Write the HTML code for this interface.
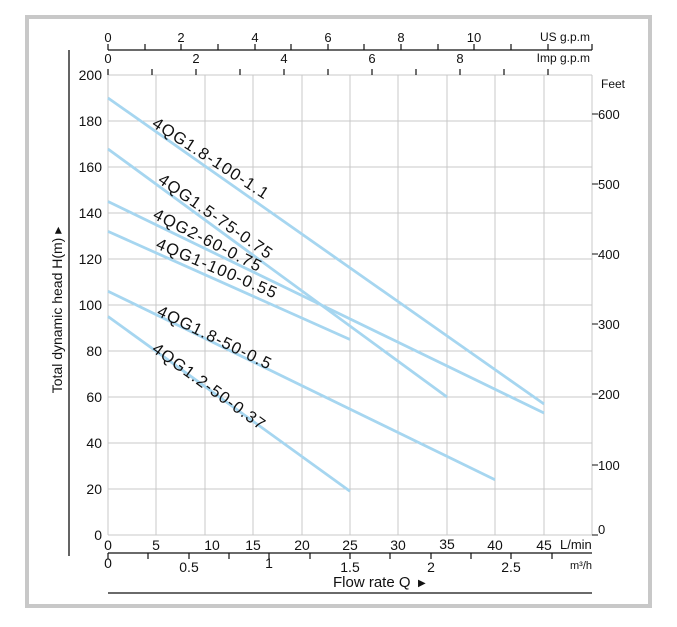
<!DOCTYPE html>
<html><head><meta charset="utf-8"><style>
html,body{margin:0;padding:0;background:#fff}
svg{display:block;font-family:"Liberation Sans",Arial,sans-serif}
</style></head><body>
<svg width="677" height="627" viewBox="0 0 677 627">
<rect x="27" y="17" width="623" height="589" fill="#fff" stroke="#c8c8c8" stroke-width="4"/>
<g stroke="#c8c8c8" stroke-width="1">
<line x1="108" y1="75" x2="592" y2="75"/><line x1="108" y1="121" x2="592" y2="121"/><line x1="108" y1="167" x2="592" y2="167"/><line x1="108" y1="213" x2="592" y2="213"/><line x1="108" y1="259" x2="592" y2="259"/><line x1="108" y1="305" x2="592" y2="305"/><line x1="108" y1="351" x2="592" y2="351"/><line x1="108" y1="397" x2="592" y2="397"/><line x1="108" y1="443" x2="592" y2="443"/><line x1="108" y1="489" x2="592" y2="489"/><line x1="108" y1="535" x2="592" y2="535"/>
<line x1="108" y1="75" x2="108" y2="535"/><line x1="156" y1="75" x2="156" y2="535"/><line x1="205" y1="75" x2="205" y2="535"/><line x1="253" y1="75" x2="253" y2="535"/><line x1="302" y1="75" x2="302" y2="535"/><line x1="350" y1="75" x2="350" y2="535"/><line x1="398" y1="75" x2="398" y2="535"/><line x1="447" y1="75" x2="447" y2="535"/><line x1="495" y1="75" x2="495" y2="535"/><line x1="544" y1="75" x2="544" y2="535"/><line x1="592" y1="75" x2="592" y2="535"/>
</g>
<g stroke="#a6d6f0" stroke-width="2.8" fill="none">
<line x1="108" y1="98" x2="544" y2="404"/>
<line x1="108" y1="149" x2="447" y2="397"/>
<line x1="108" y1="201.5" x2="544" y2="413"/>
<line x1="108" y1="231.4" x2="350" y2="339.5"/>
<line x1="108" y1="291.2" x2="495" y2="479.8"/>
<line x1="108" y1="316.5" x2="350" y2="491.3"/>
</g>
<g font-size="16.5" fill="#111" letter-spacing="1.2">
<text transform="translate(151,126) rotate(33)">4QG1.8-100-1.1</text>
<text transform="translate(157,182) rotate(35)">4QG1.5-75-0.75</text>
<text transform="translate(152,218) rotate(27)">4QG2-60-0.75</text>
<text transform="translate(155,248) rotate(23)">4QG1-100-0.55</text>
<text transform="translate(156,315) rotate(26)">4QG1.8-50-0.5</text>
<text transform="translate(151,351) rotate(36)">4QG1.2-50-0.37</text>
</g>
<line x1="69" y1="50" x2="69" y2="556" stroke="#111" stroke-width="1.3"/>
<g font-size="14" fill="#111" text-anchor="end">
<text x="102" y="80">200</text><text x="102" y="126">180</text><text x="102" y="172">160</text><text x="102" y="218">140</text><text x="102" y="264">120</text><text x="102" y="310">100</text><text x="102" y="356">80</text><text x="102" y="402">60</text><text x="102" y="448">40</text><text x="102" y="494">20</text><text x="102" y="540">0</text>
</g>
<text transform="translate(62,310) rotate(-90)" font-size="14" fill="#111" text-anchor="middle">Total dynamic head H(m) ▸</text>
<g stroke="#111" stroke-width="1">
<line x1="592" y1="114" x2="598" y2="114"/><line x1="592" y1="184" x2="598" y2="184"/><line x1="592" y1="254" x2="598" y2="254"/><line x1="592" y1="324" x2="598" y2="324"/><line x1="592" y1="394" x2="598" y2="394"/><line x1="592" y1="465" x2="598" y2="465"/><line x1="592" y1="535" x2="598" y2="535"/>
</g>
<g font-size="13" fill="#111">
<text x="601" y="88" font-size="12">Feet</text>
<text x="598" y="119">600</text><text x="598" y="189">500</text><text x="598" y="259">400</text><text x="598" y="329">300</text><text x="598" y="399">200</text><text x="598" y="470">100</text><text x="598" y="534">0</text>
</g>
<line x1="108" y1="50" x2="592" y2="50" stroke="#111" stroke-width="1.2"/>
<g stroke="#111" stroke-width="1.2">
<line x1="108" y1="44" x2="108" y2="50"/><line x1="145" y1="44" x2="145" y2="50"/><line x1="181" y1="44" x2="181" y2="50"/><line x1="218" y1="44" x2="218" y2="50"/><line x1="255" y1="44" x2="255" y2="50"/><line x1="291" y1="44" x2="291" y2="50"/><line x1="328" y1="44" x2="328" y2="50"/><line x1="364" y1="44" x2="364" y2="50"/><line x1="401" y1="44" x2="401" y2="50"/><line x1="438" y1="44" x2="438" y2="50"/><line x1="474" y1="44" x2="474" y2="50"/><line x1="511" y1="44" x2="511" y2="50"/><line x1="548" y1="44" x2="548" y2="50"/><line x1="592" y1="44" x2="592" y2="50"/>
</g>
<g font-size="13" fill="#111" text-anchor="middle">
<text x="108" y="42">0</text><text x="181" y="42">2</text><text x="255" y="42">4</text><text x="328" y="42">6</text><text x="401" y="42">8</text><text x="474" y="42">10</text>
<text x="108" y="63">0</text><text x="196" y="63">2</text><text x="284" y="63">4</text><text x="372" y="63">6</text><text x="460" y="63">8</text>
</g>
<text x="590" y="41" font-size="12" fill="#111" text-anchor="end">US  g.p.m</text>
<text x="590" y="62" font-size="12" fill="#111" text-anchor="end">Imp g.p.m</text>
<g stroke="#111" stroke-width="1.2">
<line x1="108" y1="69" x2="108" y2="75"/><line x1="152" y1="69" x2="152" y2="75"/><line x1="196" y1="69" x2="196" y2="75"/><line x1="240" y1="69" x2="240" y2="75"/><line x1="284" y1="69" x2="284" y2="75"/><line x1="328" y1="69" x2="328" y2="75"/><line x1="372" y1="69" x2="372" y2="75"/><line x1="416" y1="69" x2="416" y2="75"/><line x1="460" y1="69" x2="460" y2="75"/><line x1="504" y1="69" x2="504" y2="75"/><line x1="548" y1="69" x2="548" y2="75"/>
</g>
<g font-size="14" fill="#111" text-anchor="middle">
<text x="108" y="550">0</text><text x="156" y="550">5</text><text x="212" y="550">10</text><text x="253" y="550">15</text><text x="302" y="550">20</text><text x="350" y="550">25</text><text x="398" y="550">30</text><text x="447" y="549">35</text><text x="495" y="550">40</text><text x="544" y="550">45</text>
</g>
<text x="560" y="549" font-size="13" fill="#111">L/min</text>
<line x1="108" y1="553" x2="592" y2="553" stroke="#111" stroke-width="1.2"/>
<g stroke="#111" stroke-width="1.2">
<line x1="108" y1="553" x2="108" y2="559"/><line x1="148" y1="553" x2="148" y2="559"/><line x1="189" y1="553" x2="189" y2="559"/><line x1="229" y1="553" x2="229" y2="559"/><line x1="269" y1="553" x2="269" y2="559"/><line x1="310" y1="553" x2="310" y2="559"/><line x1="350" y1="553" x2="350" y2="559"/><line x1="390" y1="553" x2="390" y2="559"/><line x1="431" y1="553" x2="431" y2="559"/><line x1="471" y1="553" x2="471" y2="559"/><line x1="511" y1="553" x2="511" y2="559"/><line x1="552" y1="553" x2="552" y2="559"/>
</g>
<g font-size="14" fill="#111" text-anchor="middle">
<text x="108" y="568">0</text><text x="189" y="572">0.5</text><text x="269" y="568">1</text><text x="350" y="572">1.5</text><text x="431" y="572">2</text><text x="511" y="572">2.5</text>
</g>
<text x="570" y="569" font-size="11" fill="#111">m³/h</text>
<text x="333" y="587" font-size="15" fill="#111">Flow rate Q</text>
<text x="418" y="586" font-size="10" fill="#111">▶</text>
<line x1="108" y1="593" x2="592" y2="593" stroke="#111" stroke-width="1.2"/>
</svg>
</body></html>
